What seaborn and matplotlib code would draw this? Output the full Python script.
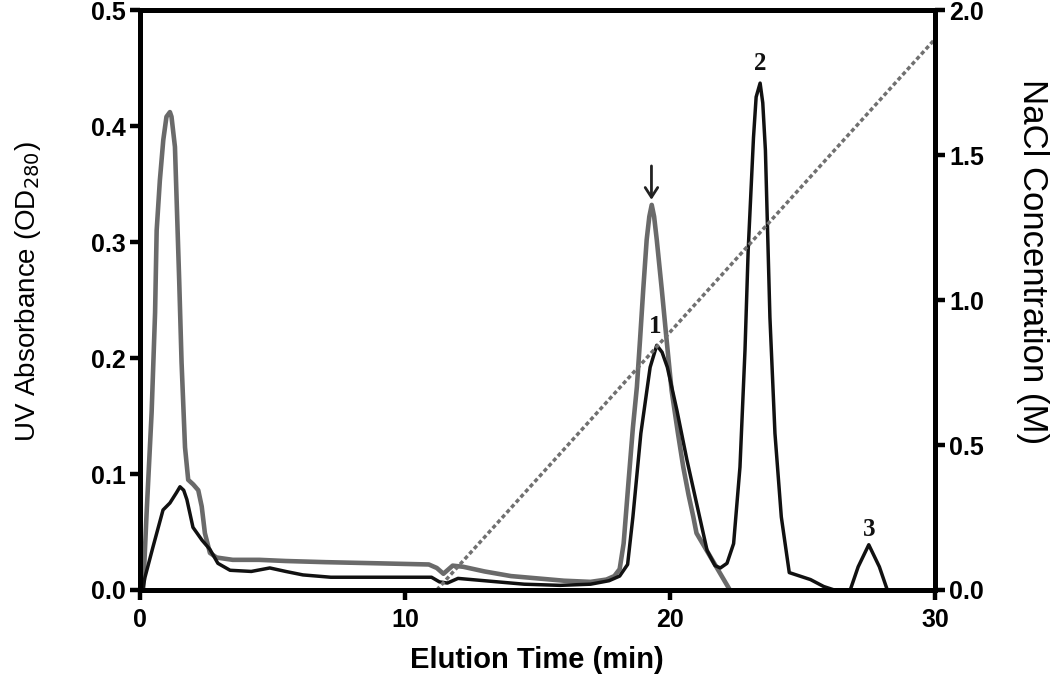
import seaborn as sns
import matplotlib.pyplot as plt

sns.set_style("ticks")
plt.rcParams['font.family'] = ['Liberation Sans', 'DejaVu Sans']

# gray trace (sample UV)
gray_x = [0.12, 0.25, 0.44, 0.57, 0.63, 0.75, 0.88, 1.0, 1.13, 1.19, 1.32, 1.38, 1.48, 1.57, 1.7, 1.82,
          2.01, 2.2, 2.33, 2.45, 2.64, 2.89, 3.5, 4.5, 5.5, 7.0, 9.0, 10.9, 11.2, 11.45, 11.8, 12.2,
          13.0, 14.0, 15.0, 16.0, 17.0, 17.6, 17.9, 18.1, 18.25, 18.43, 18.6, 18.75, 18.87, 18.99,
          19.12, 19.22, 19.31, 19.4, 19.5, 19.69, 19.87, 20.06, 20.3, 20.5, 20.7, 20.88, 21.0, 22.26]
gray_y = [0.0, 0.066, 0.153, 0.239, 0.31, 0.353, 0.388, 0.408, 0.412, 0.408, 0.382, 0.339, 0.267, 0.196, 0.123, 0.095,
          0.091, 0.086, 0.072, 0.049, 0.032, 0.028, 0.026, 0.026, 0.025, 0.024, 0.023, 0.022, 0.019, 0.014, 0.021, 0.020,
          0.016, 0.012, 0.010, 0.008, 0.007, 0.009, 0.012, 0.018, 0.04, 0.092, 0.14, 0.175, 0.216, 0.259,
          0.302, 0.322, 0.332, 0.322, 0.302, 0.259, 0.216, 0.172, 0.135, 0.106, 0.082, 0.063, 0.049, 0.0]

# black trace
black_x = [0.1, 0.19, 0.49, 0.87, 1.13, 1.38, 1.51, 1.65, 1.77, 2.0, 2.34, 2.64, 2.94, 3.4, 4.2,
           4.9, 5.5, 6.15, 7.2, 9.0, 11.0, 11.3, 11.6, 12.0, 12.5, 13.5, 14.5, 15.85, 17.0, 17.7,
           18.1, 18.4, 18.6, 18.9, 19.25, 19.5, 19.7, 19.9, 20.26, 20.64, 21.0, 21.4, 21.7, 21.9,
           22.15, 22.4, 22.64, 22.83, 22.95, 23.15, 23.25, 23.4, 23.5, 23.6, 23.77, 23.96, 24.2,
           24.5, 25.3, 25.8, 26.2, 26.8, 27.1, 27.5, 27.9, 28.2]
black_y = [0.0, 0.011, 0.037, 0.069, 0.075, 0.084, 0.089, 0.086, 0.078, 0.054, 0.043, 0.035, 0.023, 0.017, 0.016,
           0.019, 0.016, 0.013, 0.011, 0.011, 0.011, 0.007, 0.006, 0.010, 0.009, 0.007, 0.005, 0.004, 0.005, 0.008,
           0.012, 0.022, 0.063, 0.135, 0.192, 0.211, 0.205, 0.192, 0.155, 0.112, 0.075, 0.034, 0.021, 0.019,
           0.023, 0.04, 0.106, 0.207, 0.293, 0.39, 0.425, 0.437, 0.42, 0.379, 0.235, 0.135, 0.063,
           0.015, 0.009, 0.003, 0.0, 0.0, 0.02, 0.039, 0.02, 0.0]

# NaCl gradient (right axis)
grad_x = [11.2, 30.0]
grad_y = [0.0, 1.9]

peak_labels = ["1", "2", "3"]
peak_pos = [(19.45, 0.227), (23.4, 0.454), (27.5, 0.052)]

fig = plt.figure(figsize=(10.5, 6.82), dpi=100)
ax = fig.add_axes([0.1333, 0.1349, 0.7572, 0.8504])
ax2 = ax.twinx()

sns.lineplot(x=gray_x, y=gray_y, color='#6a6a6a', linewidth=3.3, ax=ax)
sns.lineplot(x=black_x, y=black_y, color='#111111', linewidth=2.5, ax=ax)
sns.lineplot(x=grad_x, y=grad_y, color='#707070', linewidth=2.5, linestyle=(0, (1.2, 0.8)), ax=ax2)

ax.set_xlim(0, 30)
ax.set_ylim(0, 0.5)
ax2.set_ylim(0, 2.0)
ax.set_xticks([0, 10, 20, 30])
ax.set_yticks([0.0, 0.1, 0.2, 0.3, 0.4, 0.5])
ax.set_yticklabels(['0.0', '0.1', '0.2', '0.3', '0.4', '0.5'])
ax2.set_yticks([0.0, 0.5, 1.0, 1.5, 2.0])
ax2.set_yticklabels(['0.0', '0.5', '1.0', '1.5', '2.0'])

for a in (ax, ax2):
    for s in a.spines.values():
        s.set_linewidth(3.6)
        s.set_color('black')
        s.set_visible(True)
    a.tick_params(width=3.2, length=7, labelsize=18, colors='black', labelcolor='black', pad=3)
    for lab in a.get_xticklabels() + a.get_yticklabels():
        lab.set_fontweight('bold')
ax.tick_params(axis='x', pad=6)

ax.set_xlabel('Elution Time (min)', fontsize=21, fontweight='bold', color='black', va='center')
ax.xaxis.set_label_coords(0.499, -0.121)
ax.set_ylabel('UV Absorbance (OD$_{280}$)', fontsize=20, color='black', va='center')
ax.yaxis.set_label_coords(-0.141, 0.514)
ax2.set_ylabel('NaCl Concentration (M)', fontsize=25, rotation=270, color='black', va='center')
ax2.yaxis.set_label_coords(1.122, 0.567)

for lab, (px, py) in zip(peak_labels, peak_pos):
    ax.text(px, py, lab, ha='center', va='center', fontsize=18, fontweight='bold',
            family='Liberation Serif', color='#111111')

ax.annotate('', xy=(19.3, 0.334), xytext=(19.3, 0.368),
            arrowprops=dict(arrowstyle='->,head_width=0.45,head_length=0.7', color='#222222', lw=2.0))

fig.savefig('out.png', dpi=100)
